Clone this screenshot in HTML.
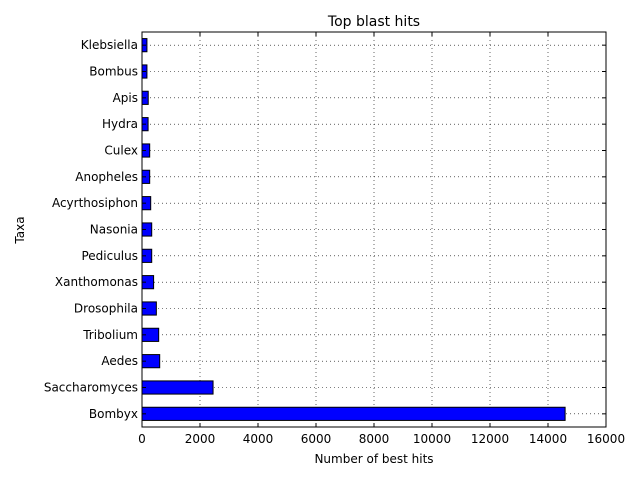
<!DOCTYPE html>
<html><head><meta charset="utf-8"><style>
body{margin:0;background:#fff;font-family:"DejaVu Sans",sans-serif}
</style></head><body>
<svg id="chart" width="640" height="480" xmlns="http://www.w3.org/2000/svg" font-family="DejaVu Sans, sans-serif">
<rect width="640" height="480" fill="#fff"/>
<g id="grid"></g><g id="bars"></g><g id="axes"></g>
<text x="374" y="26" font-size="14" text-anchor="middle">Top blast hits</text>
<text x="374" y="463" font-size="12" text-anchor="middle">Number of best hits</text>
<text x="24" y="230" font-size="12" text-anchor="middle" transform="rotate(-90 24 230)">Taxa</text>
</svg>
<script>
const categories=["Bombyx","Saccharomyces","Aedes","Tribolium","Drosophila","Xanthomonas","Pediculus","Nasonia","Acyrthosiphon","Anopheles","Culex","Hydra","Apis","Bombus","Klebsiella"];
const values=[14590,2450,610,575,495,400,335,335,300,265,265,210,215,170,170];
const xTicks=[0,2000,4000,6000,8000,10000,12000,14000,16000];
const L=142,R=606,T=32,B=427,NS="http://www.w3.org/2000/svg";
const x=v=>L+(v/16000)*(R-L);
const band=(B-T)/categories.length;
const y=i=>B-(i+0.5)*band;
function mk(t,a,p){const e=document.createElementNS(NS,t);for(const k in a)e.setAttribute(k,a[k]);p.appendChild(e);return e;}
const grid=document.getElementById('grid'),bars=document.getElementById('bars'),axes=document.getElementById('axes');
xTicks.forEach(v=>{
 const g=mk('line',{x1:x(v),x2:x(v),y1:T,y2:B,stroke:'#000','stroke-dasharray':'1,3','stroke-width':0.6},grid);
 
 
 const t=mk('text',{x:x(v),y:B+16,'font-size':12,'text-anchor':'middle'},axes);t.textContent=v;
 
 
 mk('line',{x1:x(v),x2:x(v),y1:B,y2:B-4,stroke:'#000'},axes);
 mk('line',{x1:x(v),x2:x(v),y1:T,y2:T+4,stroke:'#000'},axes);
});
categories.forEach((c,i)=>{
 const yy=y(i);
 const gl=mk('line',{x1:L,x2:R,y1:yy,y2:yy,stroke:'#000','stroke-dasharray':'1,3','stroke-width':0.6},grid);
 
 
 const r=mk('rect',{x:L,y:yy-band/4,width:x(values[i])-L,height:band/2,fill:'#0000ff',stroke:'#000','stroke-width':1},bars);
 
 
 const t=mk('text',{x:L-4,y:yy+4,'font-size':12,'text-anchor':'end'},axes);t.textContent=c;
 
 
 mk('line',{x1:L,x2:L+4,y1:yy,y2:yy,stroke:'#000'},axes);
 mk('line',{x1:R,x2:R-4,y1:yy,y2:yy,stroke:'#000'},axes);
});
const f=mk('rect',{x:L,y:T,width:R-L,height:B-T,fill:'none',stroke:'#000','stroke-width':1},axes);


</script>
</body></html>
